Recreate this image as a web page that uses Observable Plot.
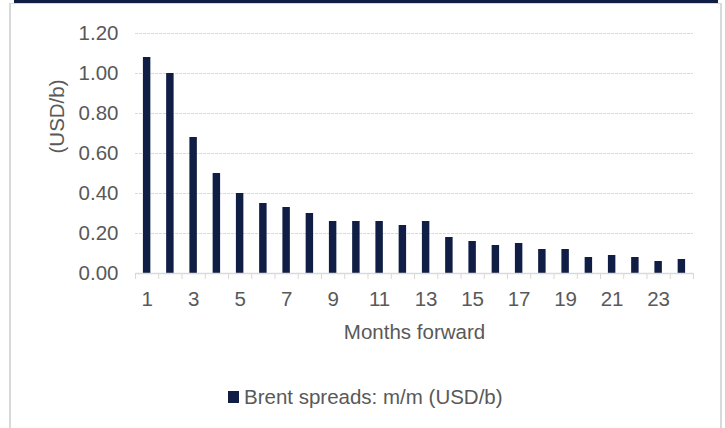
<!DOCTYPE html>
<html><head><meta charset="utf-8">
<script src="https://cdn.jsdelivr.net/npm/d3@7"></script>
<script src="https://cdn.jsdelivr.net/npm/@observablehq/plot@0.6"></script>
<style>
body{margin:0;background:#fff;font-family:Arial,"Liberation Sans",sans-serif;}
#wrap{position:relative;width:725px;height:428px;overflow:hidden;background:#fff;}
#band{position:absolute;left:14px;top:0;width:704px;height:3px;background:#101d45;}
#frame{position:absolute;left:9px;top:3px;width:709px;height:440px;border-top:1px solid #d9d9d9;border-left:2px solid #d9d9d9;border-right:2px solid #d9d9d9;}
#chart{position:absolute;left:0;top:0;}
#legend{position:absolute;left:228px;top:386px;display:flex;align-items:center;font-size:20.5px;color:#595959;line-height:22px;white-space:nowrap;}
#legend .sw{width:11px;height:12px;background:#101d45;margin-right:5px;}
</style>
</head><body>
<div id="wrap">
  <div id="band"></div>
  <div id="frame"></div>
  <div id="chart"></div>
  <div id="legend"><span class="sw"></span><span>Brent spreads: m/m (USD/b)</span></div>
</div>
<script>
const months = [1,2,3,4,5,6,7,8,9,10,11,12,13,14,15,16,17,18,19,20,21,22,23,24];
const values = [1.08,1.00,0.68,0.50,0.40,0.35,0.33,0.30,0.26,0.26,0.26,0.24,0.26,0.18,0.16,0.14,0.15,0.12,0.12,0.08,0.09,0.08,0.06,0.07];
const yTicks = [0,0.2,0.4,0.6,0.8,1.0,1.2];
const xTickLabels = [1,3,5,7,9,11,13,15,17,19,21,23];
const seriesName = "Brent spreads: m/m (USD/b)";
const xTitle = "Months forward";
const yTitle = "(USD/b)";

const data = months.map((m, i) => ({m, v: values[i]}));
const boundaries = [...months.map(m => m - 0.5), months[months.length - 1] + 0.5];

const navy = "#101d45";
const grey = "#595959";
const light = "#d9d9d9";
const fs = 20.5;

const chart = Plot.plot({
  width: 725,
  height: 345,
  marginLeft: 135,
  marginRight: 32,
  marginTop: 33,
  marginBottom: 72,
  style: {background: "transparent", fontFamily: "Arial, 'Liberation Sans', sans-serif", color: grey},
  x: {domain: [0.5, 24.5]},
  y: {domain: [0, 1.2]},
  marks: [
    Plot.gridY(yTicks, {stroke: light, strokeOpacity: 1, strokeDasharray: "3,1"}),
    Plot.rectY(data, {x1: d => d.m - 0.5, x2: d => d.m + 0.5, y: "v", fill: navy, insetLeft: 7.9, insetRight: 7.9}),
    Plot.ruleY([0], {stroke: light, strokeWidth: 1.5}),
    Plot.axisX(boundaries, {tickSize: 6, tickFormat: () => "", stroke: light, label: null}),
    Plot.axisX(xTickLabels, {tickSize: 0, tickPadding: 18, fontSize: fs, fill: grey, label: null}),
    Plot.axisY(yTicks, {tickSize: 0, tickPadding: 17, tickFormat: d3.format(".2f"), fontSize: fs, fill: grey, label: null}),
    Plot.text([xTitle], {frameAnchor: "bottom", dy: 59, lineAnchor: "middle", fontSize: fs, fill: grey}),
    Plot.text([yTitle], {frameAnchor: "left", dx: -78, rotate: -90, lineAnchor: "middle", fontSize: fs, fill: grey})
  ]
});
document.getElementById("chart").appendChild(chart);
</script>
</body></html>
